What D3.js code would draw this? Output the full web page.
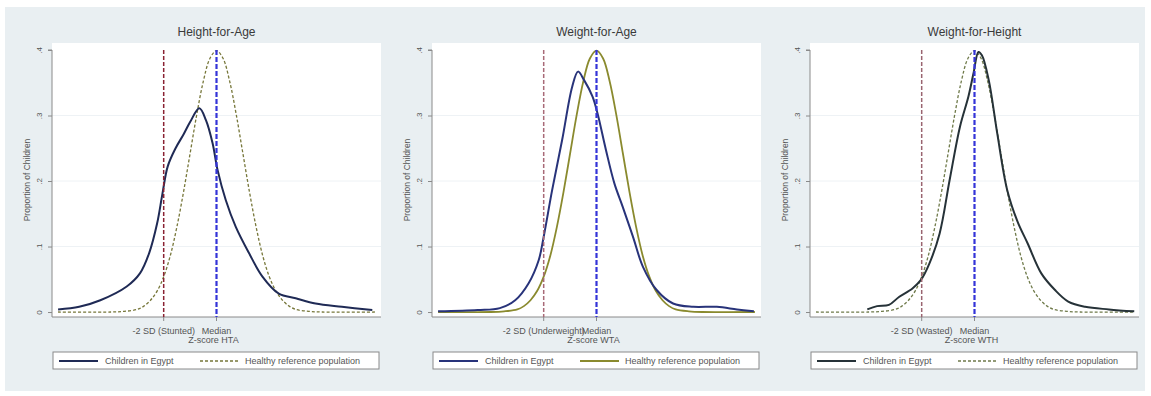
<!DOCTYPE html>
<html>
<head>
<meta charset="utf-8">
<script src="https://cdn.jsdelivr.net/npm/d3@7"></script>
<style>
  html, body { margin: 0; padding: 0; background: #fff; }
  svg { display: block; font-family: "Liberation Sans", Arial, sans-serif; }
</style>
</head>
<body>
<svg id="chart" width="1151" height="396"></svg>
<script>
// values: [z-score, density]
const panelTitles = ['Height-for-Age', 'Weight-for-Age', 'Weight-for-Height'];
const cutoffLabels = ['-2 SD (Stunted)', '-2 SD (Underweight)', '-2 SD (Wasted)'];
const xTitles = ['Z-score HTA', 'Z-score WTA', 'Z-score WTH'];
const xTickValues = [-2, 0];
const yTickValues = [0, 0.1, 0.2, 0.3, 0.4];
const yTickLabels = ['0', '.1', '.2', '.3', '.4'];
const legendLabels = ['Children in Egypt', 'Healthy reference population'];

const referenceCurve = [
  [-6, 0], [-4, 0], [-3.5, 0.001], [-3, 0.004], [-2.75, 0.009], [-2.5, 0.018],
  [-2.25, 0.032], [-2, 0.054], [-1.75, 0.086], [-1.5, 0.13], [-1.25, 0.183],
  [-1, 0.242], [-0.75, 0.301], [-0.5, 0.352], [-0.25, 0.387], [0, 0.399],
  [0.25, 0.387], [0.5, 0.352], [0.75, 0.301], [1, 0.242], [1.25, 0.183],
  [1.5, 0.13], [1.75, 0.086], [2, 0.054], [2.25, 0.032], [2.5, 0.018],
  [2.75, 0.009], [3, 0.004], [3.5, 0.001], [4, 0], [6, 0]
];

const egyptHFA = [
  [-6, 0.004], [-5.2, 0.008], [-4.4, 0.018], [-3.4, 0.039], [-2.9, 0.059],
  [-2.55, 0.09], [-2.25, 0.135], [-2.05, 0.18], [-1.85, 0.222], [-1.55, 0.25],
  [-1.25, 0.271], [-1.0, 0.29], [-0.65, 0.311], [-0.4, 0.293], [-0.15, 0.258],
  [0.04, 0.217], [0.35, 0.171], [0.73, 0.13], [1.23, 0.09], [1.74, 0.054],
  [2.36, 0.028], [3, 0.021], [3.75, 0.013], [4.75, 0.008], [5.9, 0.003]
];

const egyptWFA = [
  [-6, 0.001], [-4.5, 0.003], [-3.66, 0.006], [-3.08, 0.018], [-2.57, 0.044],
  [-2.19, 0.079], [-2, 0.115], [-1.68, 0.186], [-1.3, 0.263], [-0.92, 0.344],
  [-0.7, 0.367], [-0.47, 0.354], [-0.15, 0.329], [0.04, 0.303], [0.36, 0.247],
  [0.68, 0.196], [0.99, 0.161], [1.38, 0.115], [1.76, 0.069], [2.27, 0.034],
  [2.9, 0.013], [3.67, 0.008], [4.56, 0.008], [5.32, 0.004], [5.96, 0.001]
];

const egyptWFH = [
  [-4.06, 0.004], [-3.69, 0.009], [-3.24, 0.011], [-2.86, 0.023], [-2.35, 0.036],
  [-2.03, 0.049], [-1.71, 0.074], [-1.32, 0.12], [-0.94, 0.202], [-0.55, 0.283],
  [-0.23, 0.329], [-0.04, 0.364], [0.15, 0.397], [0.28, 0.392], [0.54, 0.354],
  [0.86, 0.273], [1.24, 0.186], [1.63, 0.138], [2.01, 0.105], [2.53, 0.059],
  [3.04, 0.034], [3.55, 0.016], [4.19, 0.008], [5.09, 0.004], [6.05, 0.001]
];

const egyptSeries = [egyptHFA, egyptWFA, egyptWFH];

(function () {
  const svg = d3.select('#chart');

  // grey graph background
  svg.append('rect')
    .attr('x', 5).attr('y', 7)
    .attr('width', 1140).attr('height', 384)
    .attr('fill', '#e9eff2');

  const panelLeft = [52, 432, 810];
  const plotW = 329;
  const plotTop = 43;
  const plotBottom = 317;

  const styles = [
    { egypt: '#1f2a55', ref: '#77773a', refDash: '3,2', cut: '#8a2233' },
    { egypt: '#28337a', ref: '#8a8a2e', refDash: null, cut: '#a86a78' },
    { egypt: '#263238', ref: '#6f7a4a', refDash: '3,2', cut: '#9a6470' }
  ];

  const y = d3.scaleLinear().domain([-0.0076, 0.4107]).range([plotBottom, plotTop]);

  panelTitles.forEach((title, i) => {
    const left = panelLeft[i];
    const st = styles[i];
    const x = d3.scaleLinear().domain([-6.23, 6.23]).range([left, left + plotW]);
    const g = svg.append('g');

    // plot region
    g.append('rect')
      .attr('x', left).attr('y', plotTop)
      .attr('width', plotW).attr('height', plotBottom - plotTop)
      .attr('fill', '#fff');

    // grid lines
    g.append('g')
      .selectAll('line')
      .data(yTickValues.slice(1, 4))
      .enter()
      .append('line')
      .attr('x1', left).attr('x2', left + plotW)
      .attr('y1', d => y(d)).attr('y2', d => y(d))
      .attr('stroke', '#eef2f5')
      .attr('stroke-width', 1);

    // title
    g.append('text')
      .attr('x', left + plotW / 2).attr('y', 36)
      .attr('text-anchor', 'middle')
      .attr('font-size', 12)
      .attr('fill', '#3a3a3a')
      .text(title);

    // y axis
    const yAxis = d3.axisLeft(y)
      .tickValues(yTickValues)
      .tickFormat((d, k) => yTickLabels[k])
      .tickSize(4);
    const ya = g.append('g')
      .attr('transform', `translate(${left},0)`)
      .call(yAxis);
    ya.select('.domain').attr('stroke', '#8a8a8a').attr('d', `M-4,${y(0.4)}H0V${plotBottom}`);
    ya.selectAll('.tick line').attr('stroke', '#8a8a8a');
    ya.selectAll('.tick text')
      .attr('font-size', 8)
      .attr('fill', '#555')
      .attr('text-anchor', 'middle')
      .attr('transform', 'rotate(-90)')
      .attr('x', 0).attr('y', -13)
      .attr('dy', '0.32em');

    g.append('text')
      .attr('transform', `translate(${left - 22},${(plotTop + plotBottom) / 2}) rotate(-90)`)
      .attr('text-anchor', 'middle')
      .attr('font-size', 8.5)
      .attr('fill', '#555')
      .text('Proportion of Children');

    // x axis
    g.append('line')
      .attr('x1', left).attr('x2', left + plotW)
      .attr('y1', plotBottom).attr('y2', plotBottom)
      .attr('stroke', '#8a8a8a');
    g.append('g')
      .selectAll('line')
      .data(xTickValues)
      .enter()
      .append('line')
      .attr('x1', d => x(d)).attr('x2', d => x(d))
      .attr('y1', plotBottom).attr('y2', plotBottom + 4)
      .attr('stroke', '#8a8a8a');
    g.append('g')
      .selectAll('text')
      .data(xTickValues)
      .enter()
      .append('text')
      .attr('x', d => x(d))
      .attr('y', 334)
      .attr('text-anchor', 'middle')
      .attr('font-size', 9)
      .attr('fill', '#555')
      .text(d => (d === 0 ? 'Median' : cutoffLabels[i]));
    g.append('text')
      .attr('x', left + plotW / 2 - 3).attr('y', 343)
      .attr('text-anchor', 'middle')
      .attr('font-size', 9)
      .attr('fill', '#555')
      .text(xTitles[i]);

    const line = d3.line()
      .x(d => x(d[0]))
      .y(d => y(d[1]))
      .curve(d3.curveCatmullRom.alpha(0.5));

    // reference line
    g.append('path')
      .datum(referenceCurve)
      .attr('d', line)
      .attr('fill', 'none')
      .attr('stroke', st.ref)
      .attr('stroke-width', st.refDash ? 1.3 : 1.8)
      .attr('stroke-dasharray', st.refDash);

    // Egypt line
    g.append('path')
      .datum(egyptSeries[i])
      .attr('d', line)
      .attr('fill', 'none')
      .attr('stroke', st.egypt)
      .attr('stroke-width', 2);

    // cutoff line (-2 SD)
    g.append('line')
      .attr('x1', x(-2)).attr('x2', x(-2))
      .attr('y1', y(0.4)).attr('y2', plotBottom)
      .attr('stroke', st.cut)
      .attr('stroke-width', 1.5)
      .attr('stroke-dasharray', '4,2');

    // median line
    g.append('line')
      .attr('x1', x(0)).attr('x2', x(0))
      .attr('y1', y(0.4)).attr('y2', plotBottom)
      .attr('stroke', '#3434d8')
      .attr('stroke-width', 2.2)
      .attr('stroke-dasharray', '5,2');

    // legend
    const lg = g.append('g').attr('transform', `translate(${left + 1},352)`);
    lg.append('rect')
      .attr('width', plotW - 3).attr('height', 17)
      .attr('fill', '#fff')
      .attr('stroke', '#8a8a8a');
    lg.append('line')
      .attr('x1', 6).attr('x2', 45).attr('y1', 9).attr('y2', 9)
      .attr('stroke', st.egypt).attr('stroke-width', 2);
    lg.append('text')
      .attr('x', 52).attr('y', 12)
      .attr('font-size', 9).attr('fill', '#555')
      .text(legendLabels[0]);
    lg.append('line')
      .attr('x1', 147).attr('x2', 186).attr('y1', 9).attr('y2', 9)
      .attr('stroke', st.ref).attr('stroke-width', st.refDash ? 1.3 : 1.8)
      .attr('stroke-dasharray', st.refDash);
    lg.append('text')
      .attr('x', 192).attr('y', 12)
      .attr('font-size', 9).attr('fill', '#555')
      .text(legendLabels[1]);
  });
})();
</script>
</body>
</html>
